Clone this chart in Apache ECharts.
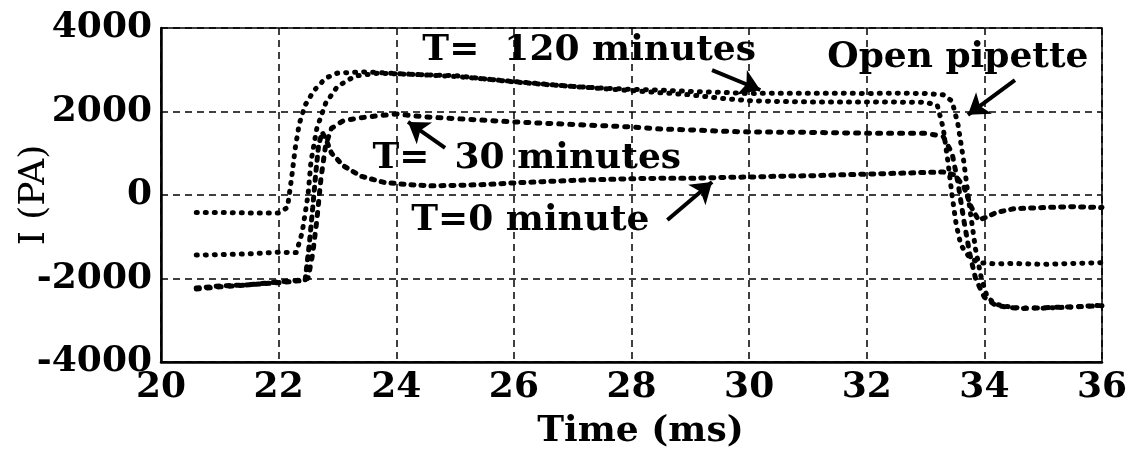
<!DOCTYPE html>
<html>
<head>
<meta charset="utf-8">
<script src="https://cdn.jsdelivr.net/npm/echarts@6/dist/echarts.min.js"></script>
<style>html,body{margin:0;padding:0;background:#fff;}#c{width:1132px;height:452px;}</style>
</head>
<body>
<div id="c"></div>
<script>
// ---- data ----
const xTicks = [20, 22, 24, 26, 28, 30, 32, 34, 36];
const yTicks = [-4000, -2000, 0, 2000, 4000];

// T = 120 minutes
const xT120 = [20.6, 21.0, 21.5, 22.0, 22.3, 22.4, 22.5, 22.55, 22.65, 22.8, 23.0, 23.3, 23.7, 24.0, 24.5, 25.0, 25.5, 26.0, 26.5, 27.0, 27.5, 28.0, 28.5, 29.0, 29.5, 30.0, 30.5, 31.0, 31.5, 32.0, 32.5, 33.0, 33.3, 33.45, 33.55, 33.65, 33.75, 33.85, 33.95, 34.05, 34.2, 34.5, 35.0, 35.5, 36.0];
const yT120 = [-1440, -1430, -1410, -1370, -1380, -900, 0, 800, 1600, 2200, 2600, 2850, 2920, 2900, 2880, 2860, 2780, 2710, 2650, 2600, 2560, 2530, 2510, 2480, 2460, 2430, 2440, 2440, 2440, 2430, 2440, 2430, 2400, 2250, 1700, 800, -300, -1300, -2000, -2450, -2620, -2700, -2710, -2680, -2640];

// unlabelled trace
const xOther = [20.6, 21.0, 21.5, 22.0, 22.15, 22.22, 22.28, 22.35, 22.45, 22.6, 22.8, 23.0, 23.5, 24.0, 25.0, 26.0, 27.0, 28.0, 29.0, 29.5, 30.0, 30.5, 31.0, 32.0, 33.0, 33.2, 33.3, 33.38, 33.45, 33.52, 33.6, 33.75, 33.9, 34.2, 34.5, 35.0, 35.5, 36.0];
const yOther = [-420, -420, -430, -430, -300, 400, 1100, 1700, 2150, 2500, 2800, 2920, 2950, 2910, 2840, 2720, 2600, 2500, 2400, 2320, 2260, 2240, 2230, 2230, 2220, 2150, 1600, 800, 0, -700, -1200, -1500, -1620, -1650, -1640, -1660, -1640, -1620];

// T = 30 minutes
const xT30 = [20.6, 21.0, 21.5, 22.0, 22.3, 22.5, 22.58, 22.65, 22.72, 22.8, 22.9, 23.1, 23.4, 23.7, 24.0, 24.5, 25.0, 25.5, 26.0, 26.5, 27.0, 27.5, 28.0, 28.5, 29.0, 29.5, 30.0, 31.0, 32.0, 33.0, 33.3, 33.45, 33.55, 33.65, 33.75, 33.85, 34.0, 34.2, 34.6, 35.0, 35.5, 36.0];
const yT30 = [-2250, -2200, -2150, -2080, -2050, -2000, -1400, -600, 400, 1200, 1600, 1780, 1850, 1900, 1940, 1870, 1830, 1790, 1750, 1720, 1690, 1660, 1630, 1580, 1560, 1530, 1510, 1500, 1480, 1480, 1400, 1000, 300, -600, -1400, -2000, -2450, -2650, -2720, -2700, -2680, -2650];

// T = 0 minute
const xT0 = [20.6, 21.0, 21.5, 22.0, 22.3, 22.45, 22.52, 22.58, 22.63, 22.68, 22.74, 22.8, 22.9, 23.1, 23.4, 23.8, 24.2, 24.6, 25.0, 25.5, 26.0, 26.5, 27.0, 27.5, 28.0, 28.5, 29.0, 29.5, 30.0, 30.5, 31.0, 31.5, 32.0, 32.5, 33.0, 33.3, 33.5, 33.65, 33.78, 33.9, 34.0, 34.2, 34.5, 35.0, 35.5, 36.0];
const yT0 = [-2230, -2180, -2150, -2100, -2060, -2050, -1200, -300, 500, 1200, 1500, 1350, 1000, 700, 450, 300, 250, 220, 230, 250, 290, 320, 350, 370, 390, 400, 400, 420, 430, 450, 460, 480, 500, 520, 540, 550, 480, 200, -300, -600, -550, -420, -330, -300, -280, -300];

// annotations
const annoTexts = ['T=  120 minutes', 'T=  30 minutes', 'T=0 minute', 'Open pipette'];
const annoAt = [[27.28, 3450], [26.22, 860], [26.28, -620], [33.55, 3300]];
const arrowFrom = [[29.37, 2990], [24.83, 1130], [28.61, -600], [34.52, 2750]];
const arrowTo = [[30.19, 2515], [24.20, 1750], [29.37, 310], [33.72, 1920]];

// ---- chart ----
const pair = (xs, ys) => xs.map((x, i) => [x, ys[i]]);
const FONT = 'DejaVu Serif';

function trace(name, xs, ys, dash) {
  return {
    name, type: 'line', data: pair(xs, ys), showSymbol: false, symbol: 'none',
    lineStyle: { color: '#000', width: 5, type: dash, cap: 'round' },
    silent: true, z: 3
  };
}

const series = [
  trace('T=120', xT120, yT120, [1, 8]),
  trace('other', xOther, yOther, [1, 8]),
  trace('T=30', xT30, yT30, [3, 8]),
  trace('T=0', xT0, yT0, [3, 7]),
  {
    name: 'annotations', type: 'scatter', symbol: 'circle', symbolSize: 1, silent: true, z: 5,
    itemStyle: { opacity: 0 },
    data: annoAt.map((p, i) => ({ value: p, name: annoTexts[i] })),
    label: {
      show: true, position: 'inside', formatter: p => p.name, opacity: 1,
      fontFamily: FONT, fontWeight: 'bold', fontSize: 36, color: '#000'
    },
    markLine: {
      silent: true, symbol: ['none', 'arrow'], symbolSize: 20,
      label: { show: false },
      itemStyle: { color: '#000', opacity: 1 },
      lineStyle: { color: '#000', width: 4, type: 'solid', opacity: 1 },
      data: arrowFrom.map((f, i) => [{ coord: f }, { coord: arrowTo[i] }])
    }
  }
];

const chart = echarts.init(document.getElementById('c'), null, { renderer: 'canvas' });
chart.setOption({
  animation: false,
  backgroundColor: '#fff',
  grid: { left: 161, right: 30, top: 28, bottom: 90, outerBoundsMode: 'none', containLabel: false, show: true, borderColor: '#000', borderWidth: 1.5, backgroundColor: 'transparent' },
  xAxis: {
    type: 'value', min: xTicks[0], max: xTicks[xTicks.length - 1], interval: 2,
    name: 'Time (ms)', nameLocation: 'middle', nameGap: 52, nameMoveOverlap: false,
    nameTextStyle: { fontFamily: FONT, fontWeight: 'bold', fontSize: 36, color: '#000', padding: [0, 0, 0, 18] },
    axisLine: { onZero: false, lineStyle: { color: '#000', width: 2.5 } },
    axisTick: { show: false },
    axisLabel: { fontFamily: FONT, fontWeight: 'bold', fontSize: 36, color: '#000', margin: 8, formatter: v => String(v) },
    splitLine: { show: true, lineStyle: { color: '#000', width: 1.5, type: [7, 5] } }
  },
  yAxis: {
    type: 'value', min: yTicks[0], max: yTicks[yTicks.length - 1], interval: 2000,
    name: 'I (PA)', nameLocation: 'middle', nameGap: 108, nameMoveOverlap: false,
    nameTextStyle: { fontFamily: FONT, fontSize: 36, color: '#000' },
    axisLine: { onZero: false, lineStyle: { color: '#000', width: 2.5 } },
    axisTick: { show: false },
    axisLabel: { fontFamily: FONT, fontWeight: 'bold', fontSize: 36, color: '#000', margin: 9, formatter: v => String(v) },
    splitLine: { show: true, lineStyle: { color: '#000', width: 1.5, type: [7, 5] } }
  },
  series
});
</script>
</body>
</html>
